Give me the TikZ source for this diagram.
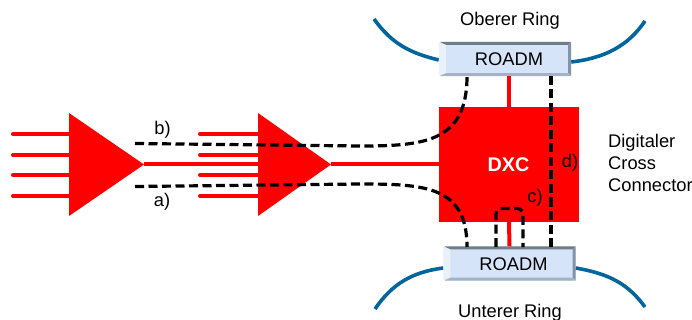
\documentclass[tikz,border=0pt]{standalone}
\usepackage{fontspec}
\setmainfont{Liberation Sans}
\usetikzlibrary{positioning,calc}
\definecolor{ringblue}{HTML}{00659C}
\definecolor{boxfill}{HTML}{D5E4F8}
\definecolor{bevtop}{HTML}{6F7C8C}
\definecolor{bevside}{HTML}{8493A6}
\definecolor{bevbot}{HTML}{A3B2C4}
\definecolor{bevleft}{HTML}{E9F1FB}
\tikzset{
  lbl/.style={font=\fontsize{18.3}{20}\selectfont,inner sep=0pt,text=black,anchor=base},
  redline/.style={draw=red,line width=4pt,line cap=round},
  dashline/.style={draw=black,line width=3.2pt,dash pattern=on 9pt off 4.5pt},
  ring/.style={draw=ringblue,line width=3.6pt},
  amp/.style={fill=red,draw=none},
  roadm/.style={fill=boxfill,draw=none,rounded corners=2.5pt,minimum width=132pt,minimum height=34pt,inner sep=0pt},
}
\newcommand{\bevel}[1]{%
  \fill[bevtop] ($(#1.north west)+(1,0)$) -- ($(#1.north east)$) -- ($(#1.north east)+(-3,3)$) -- ($(#1.north west)+(7,3)$) -- cycle;
  \fill[bevside] (#1.north east) -- (#1.south east) -- ($(#1.south east)+(-3,-3)$) -- ($(#1.north east)+(-3,3)$) -- cycle;
  \fill[bevbot] (#1.south east) -- ($(#1.south west)+(1,0)$) -- ($(#1.south west)+(7,-3)$) -- ($(#1.south east)+(-3,-3)$) -- cycle;
  \fill[bevleft] ($(#1.north west)+(0,1)$) -- ($(#1.south west)+(0,-1)$) -- ($(#1.south west)+(7,-3)$) -- ($(#1.north west)+(7,3)$) -- cycle;
}
\begin{document}
\begin{tikzpicture}[x=1pt,y=-1pt]
\useasboundingbox (0,0) rectangle (692,320);
% ring lines
\coordinate (tl) at (374,19); \coordinate (tr) at (645,21);
\coordinate (bl) at (375,309); \coordinate (br) at (645,307);
% boxes
\node[fill=red,minimum width=140pt,minimum height=115pt,inner sep=0pt] (dxc) at (509,164.5) {};
\node[roadm] (rtop) at (505,59) {};
\node[roadm] (rbot) at (509.5,263.5) {};
\draw[ring] (tl) .. controls (392,44) and (410,53) .. (rtop.west |- 0,60);
\draw[ring] (rtop.east |- 0,62) .. controls (605,58) and (628,46) .. (tr);
\draw[ring] (bl) .. controls (392,284) and (412,272) .. (rbot.west |- 0,268);
\draw[ring] (rbot.east |- 0,268) .. controls (610,274) and (628,284) .. (br);
\bevel{rtop}
\bevel{rbot}
\node[lbl] (rtopt) at (509,66) {ROADM};
\node[lbl] (rbott) at (513.5,270.5) {ROADM};
% input coordinates
\foreach \n/\y in {1/134,2/155,3/175,4/196}{
  \coordinate (ina\n) at (13,\y);
  \coordinate (inb\n) at (200,\y);
}
% amplifiers
\coordinate (a1t) at (69,113); \coordinate (a1b) at (69,216); \coordinate (a1tip) at (144,164.5);
\coordinate (a2t) at (258,113); \coordinate (a2b) at (258,216); \coordinate (a2tip) at (331,164.5);
\foreach \n in {1,2,3,4}{
  \draw[redline] (ina\n) -- (ina\n -| a1t);
  \draw[redline] (inb\n) -- (inb\n -| a2t);
}
\fill[amp] (a1t) -- (a1tip) -- (a1b) -- cycle;
\fill[amp] (a2t) -- (a2tip) -- (a2b) -- cycle;
\draw[redline,line cap=butt] (a1tip) -- (a2tip -| a2t);
\draw[redline,line cap=butt] (a2tip) -- (dxc.west |- a2tip);
\draw[redline,line cap=butt] (rtop.south -| dxc.north) -- (dxc.north);
\draw[redline,line cap=butt] (dxc.south) -- (rbot.north);
% dashed
\coordinate (bs) at (135,143.5); \coordinate (as) at (135,186.5);
\coordinate (tb) at (467,76); \coordinate (ba) at (467,247);
\draw[dashline] (bs) -- (360,146) .. controls (425,146) and (467,142) .. (tb);
\draw[dashline] (as) -- (360,184) .. controls (425,184) and (467,186) .. (ba);
\draw[dashline,rounded corners=6pt] (496,247) -- (496,208.5) -- (523,208.5) -- (523,247);
\draw[dashline] (551,76) -- (551,247);
% labels
\node[lbl] (lb) at (162.5,135) {b)};
\node[lbl] (la) at (162,206) {a)};
\node[lbl] (lc) at (535,203) {c)};
\node[lbl] (ld) at (570,168) {d)};
\node[lbl,text=white,font=\fontsize{19.8}{22}\selectfont\bfseries] (dxct) at (508.5,172) {DXC};
\node[lbl,anchor=base west] (dg1) at (608,148) {Digitaler};
\node[lbl,anchor=base west] (dg2) at (608,170) {Cross};
\node[lbl,anchor=base west] (dg3) at (608,192) {Connector};
\node[lbl] (ob) at (510,26) {Oberer Ring};
\node[lbl] (un) at (510,317) {Unterer Ring};
\end{tikzpicture}
\end{document}
